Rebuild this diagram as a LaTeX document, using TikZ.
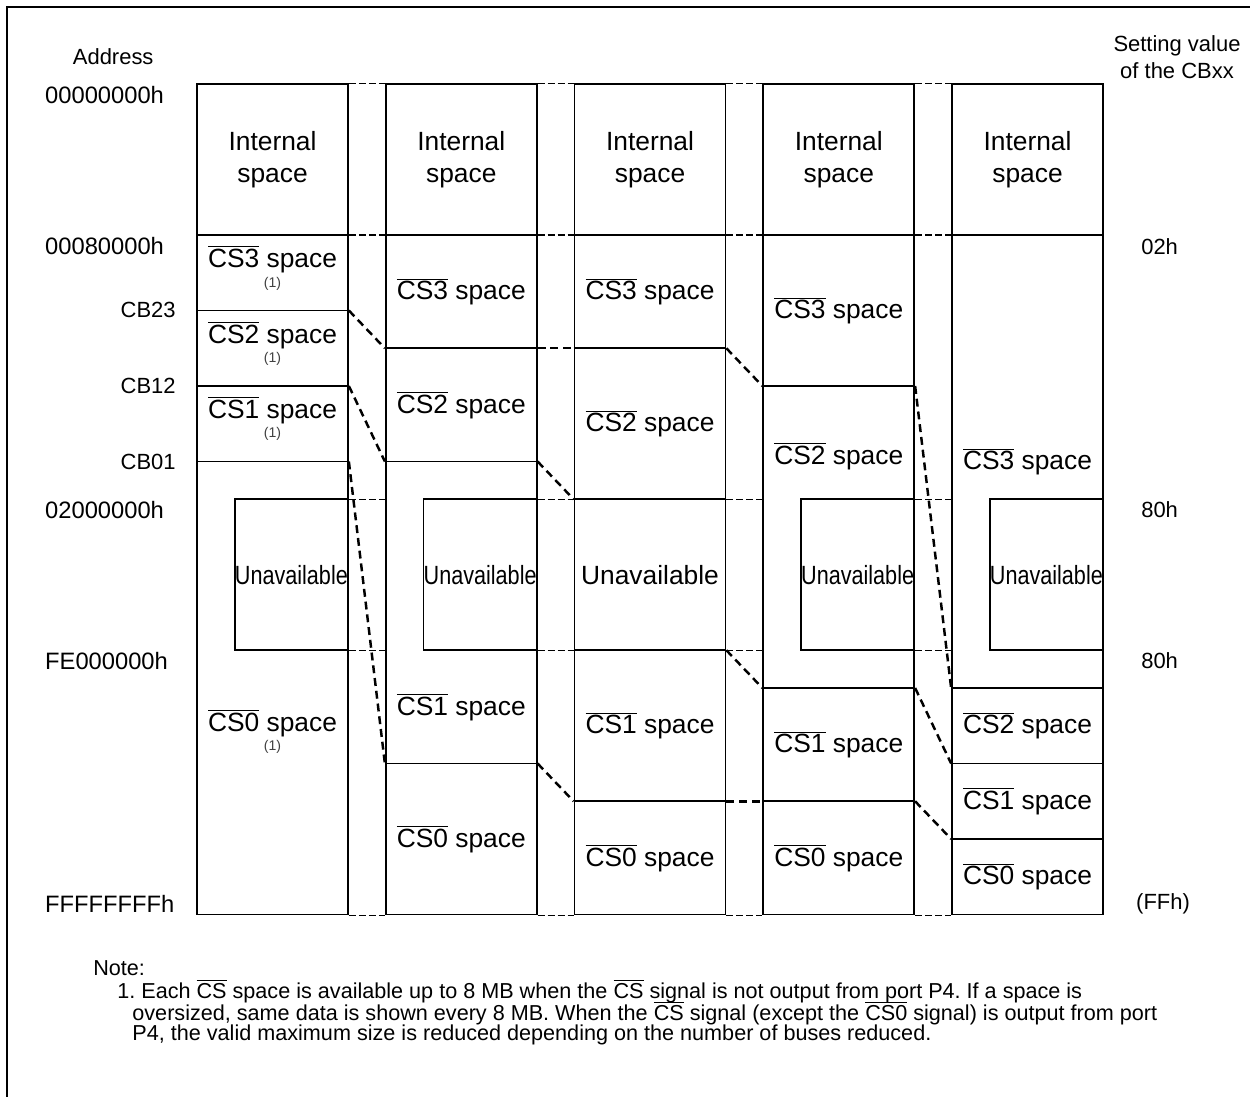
\documentclass[tikz,border=0pt]{standalone}
\usepackage{fontspec}
\setmainfont{Liberation Sans}
\frenchspacing

\newcommand{\nCS}[1]{$\overline{\mbox{CS#1}}$}

\tikzset{
	col/.style={draw, line width=1pt, minimum width=3.02cm, minimum height=16.61cm, inner sep=0pt},
	unav/.style={draw, line width=1pt, minimum width=2.265cm, minimum height=3.02cm, inner sep=0pt, font=\fontsize{15}{18}\selectfont},
	txt/.style={font=\fontsize{15}{18}\selectfont, align=center, inner sep=0pt},
	fnote/.style={font=\fontsize{8}{9}\selectfont, text=black!75, inner sep=0pt},
	addr/.style={font=\fontsize{13.5}{16}\selectfont, inner sep=0pt},
	lbl/.style={font=\fontsize{12.5}{15}\selectfont, inner sep=0pt, align=center},
	notetxt/.style={font=\fontsize{12.3}{14}\selectfont, inner sep=0pt, anchor=west},
	cellline/.style={line width=1pt},
	fixdash/.style={line width=0.6pt, dash pattern=on 4pt off 1.7pt},
	movedash/.style={line width=1.4pt, dash pattern=on 4.5pt off 2.8pt},
}

\begin{document}
\begin{tikzpicture}[x=0.755cm, y=-0.755cm]
			\useasboundingbox (-5.2185,-2.2252) rectangle (27.894,26.834);
			\draw[line width=1.5pt] (-5.033,27.5) -- (-5.033,-2.04) -- (28.5,-2.04);
			
			% address levels
			\coordinate (r0) at (0,0);
			\coordinate (r4) at (0,4);
			\coordinate (r6) at (0,6);
			\coordinate (r7) at (0,7);
			\coordinate (r8) at (0,8);
			\coordinate (r10) at (0,10);
			\coordinate (r11) at (0,11);
			\coordinate (r15) at (0,15);
			\coordinate (r16) at (0,16);
			\coordinate (r18) at (0,18);
			\coordinate (r19) at (0,19);
			\coordinate (r20) at (0,20);
			\coordinate (r22) at (0,22);
			
			\node[col] (c1) at (2,11) {};
			\node[col] (c2) at (7,11) {};
			\node[col] (c3) at (12,11) {};
			\node[col] (c4) at (17,11) {};
			\node[col] (c5) at (22,11) {};
			
			\node[unav] (u1) at (2.5,13) {\scalebox{0.82}[1]{Unavailable}};
			\node[unav] (u2) at (7.5,13) {\scalebox{0.82}[1]{Unavailable}};
			\node[unav, minimum width=3.02cm] (u3) at (12,13) {Unavailable};
			\node[unav] (u4) at (17.5,13) {\scalebox{0.82}[1]{Unavailable}};
			\node[unav] (u5) at (22.5,13) {\scalebox{0.82}[1]{Unavailable}};
			
			% cell borders
			\draw[cellline] (c1.west |- r4) -- (c1.east |- r4);
			\draw[cellline] (c1.west |- r6) -- (c1.east |- r6);
			\draw[cellline] (c1.west |- r8) -- (c1.east |- r8);
			\draw[cellline] (c1.west |- r10) -- (c1.east |- r10);
			\draw[cellline] (c2.west |- r4) -- (c2.east |- r4);
			\draw[cellline] (c2.west |- r7) -- (c2.east |- r7);
			\draw[cellline] (c2.west |- r10) -- (c2.east |- r10);
			\draw[cellline] (c2.west |- r18) -- (c2.east |- r18);
			\draw[cellline] (c3.west |- r4) -- (c3.east |- r4);
			\draw[cellline] (c3.west |- r7) -- (c3.east |- r7);
			\draw[cellline] (c3.west |- r19) -- (c3.east |- r19);
			\draw[cellline] (c4.west |- r4) -- (c4.east |- r4);
			\draw[cellline] (c4.west |- r8) -- (c4.east |- r8);
			\draw[cellline] (c4.west |- r16) -- (c4.east |- r16);
			\draw[cellline] (c4.west |- r19) -- (c4.east |- r19);
			\draw[cellline] (c5.west |- r4) -- (c5.east |- r4);
			\draw[cellline] (c5.west |- r16) -- (c5.east |- r16);
			\draw[cellline] (c5.west |- r18) -- (c5.east |- r18);
			\draw[cellline] (c5.west |- r20) -- (c5.east |- r20);
			
			% fixed addresses
			\draw[fixdash] (c1.north east) -- (c2.north west) (c2.north east) -- (c3.north west)
				(c3.north east) -- (c4.north west) (c4.north east) -- (c5.north west);
			\draw[fixdash] (c1.east |- r4) -- (c2.west |- r4) (c2.east |- r4) -- (c3.west |- r4)
				(c3.east |- r4) -- (c4.west |- r4) (c4.east |- r4) -- (c5.west |- r4);
			\draw[fixdash] (c1.east |- r11) -- (c2.west |- r11) (c2.east |- r11) -- (c3.west |- r11)
				(c3.east |- r11) -- (c4.west |- r11) (c4.east |- r11) -- (c5.west |- r11);
			\draw[fixdash] (c1.east |- r15) -- (c2.west |- r15) (c2.east |- r15) -- (c3.west |- r15)
				(c3.east |- r15) -- (c4.west |- r15) (c4.east |- r15) -- (c5.west |- r15);
			\draw[fixdash] (c1.south east) -- (c2.south west) (c2.south east) -- (c3.south west)
				(c3.south east) -- (c4.south west) (c4.south east) -- (c5.south west);
			
			% moved boundaries
			\draw[movedash] (c1.east |- r6) -- (c2.west |- r7);
			\draw[movedash] (c1.east |- r8) -- (c2.west |- r10);
			\draw[movedash] (c1.east |- r10) -- (c2.west |- r18);
			\draw[movedash] (c2.east |- r7) -- (c3.west |- r7);
			\draw[movedash] (c2.east |- r10) -- (c3.west |- r11);
			\draw[movedash] (c2.east |- r18) -- (c3.west |- r19);
			\draw[movedash] (c3.east |- r7) -- (c4.west |- r8);
			\draw[movedash] (c3.east |- r15) -- (c4.west |- r16);
			\draw[movedash] (c3.east |- r19) -- (c4.west |- r19);
			\draw[movedash] (c4.east |- r8) -- (c5.west |- r16);
			\draw[movedash] (c4.east |- r16) -- (c5.west |- r18);
			\draw[movedash] (c4.east |- r19) -- (c5.west |- r20);
			
			\node[txt] (i1) at (2,2) {Internal\\space};
			\node[txt] (i2) at (7,2) {Internal\\space};
			\node[txt] (i3) at (12,2) {Internal\\space};
			\node[txt] (i4) at (17,2) {Internal\\space};
			\node[txt] (i5) at (22,2) {Internal\\space};
			
			\node[txt] (s13) at (2,4.64) {\nCS{3} space};
			\node[fnote] (f13) at (2,5.3) {(1)};
			\node[txt] (s12) at (2,6.65) {\nCS{2} space};
			\node[fnote] (f12) at (2,7.29) {(1)};
			\node[txt] (s11) at (2,8.64) {\nCS{1} space};
			\node[fnote] (f11) at (2,9.28) {(1)};
			\node[txt] (s10) at (2,16.93) {\nCS{0} space};
			\node[fnote] (f10) at (2,17.57) {(1)};
			
			\node[txt] (s23) at (7,5.5) {\nCS{3} space};
			\node[txt] (s22) at (7,8.5) {\nCS{2} space};
			\node[txt] (s21) at (7,16.5) {\nCS{1} space};
			\node[txt] (s20) at (7,20) {\nCS{0} space};
			
			\node[txt] (s33) at (12,5.5) {\nCS{3} space};
			\node[txt] (s32) at (12,9) {\nCS{2} space};
			\node[txt] (s31) at (12,17) {\nCS{1} space};
			\node[txt] (s30) at (12,20.5) {\nCS{0} space};
			
			\node[txt] (s43) at (17,6) {\nCS{3} space};
			\node[txt] (s42) at (17,9.85) {\nCS{2} space};
			\node[txt] (s41) at (17,17.5) {\nCS{1} space};
			\node[txt] (s40) at (17,20.5) {\nCS{0} space};
			
			\node[txt] (s53) at (22,10) {\nCS{3} space};
			\node[txt] (s52) at (22,17) {\nCS{2} space};
			\node[txt] (s51) at (22,19) {\nCS{1} space};
			\node[txt] (s50) at (22,21) {\nCS{0} space};
			
			% address side
			\node[lbl] (adr) at (-2.22,-0.72) {Address};
			\node[addr, anchor=west] (a0) at (-4.03,0.29) {00000000h};
			\node[addr, anchor=west] (a1) at (-4.03,4.3) {00080000h};
			\node[lbl, anchor=east] (cb23) at (-0.556,5.99) {CB23};
			\node[lbl, anchor=east] (cb12) at (-0.556,8) {CB12};
			\node[lbl, anchor=east] (cb01) at (-0.556,10.01) {CB01};
			\node[addr, anchor=west] (a2) at (-4.03,11.28) {02000000h};
			\node[addr, anchor=west] (a3) at (-4.03,15.28) {FE000000h};
			\node[addr, anchor=west] (a4) at (-4.03,21.72) {FFFFFFFFh};
			
			% setting values
			\node[lbl] (set) at (25.96,-0.71) {Setting value\\of the CBxx};
			\node[lbl] (v1) at (25.5,4.3) {02h};
			\node[lbl] (v2) at (25.5,11.28) {80h};
			\node[lbl] (v3) at (25.5,15.28) {80h};
			\node[lbl] (v4) at (25.59,21.72) {(FFh)};
			
			% note
			\node[notetxt] (nt) at (-2.755,23.42) {Note:};
			\node[notetxt] (n1) at (-2.12,24.03) {1. Each \nCS{} space is available up to 8 MB when the \nCS{} signal is not output from port P4. If a space is};
			\node[notetxt] (n2) at (-1.72,24.61) {oversized, same data is shown every 8 MB. When the \nCS{} signal (except the \nCS{0} signal) is output from port};
			\node[notetxt] (n3) at (-1.72,25.19) {P4, the valid maximum size is reduced depending on the number of buses reduced.};

		\end{tikzpicture}
\end{document}
